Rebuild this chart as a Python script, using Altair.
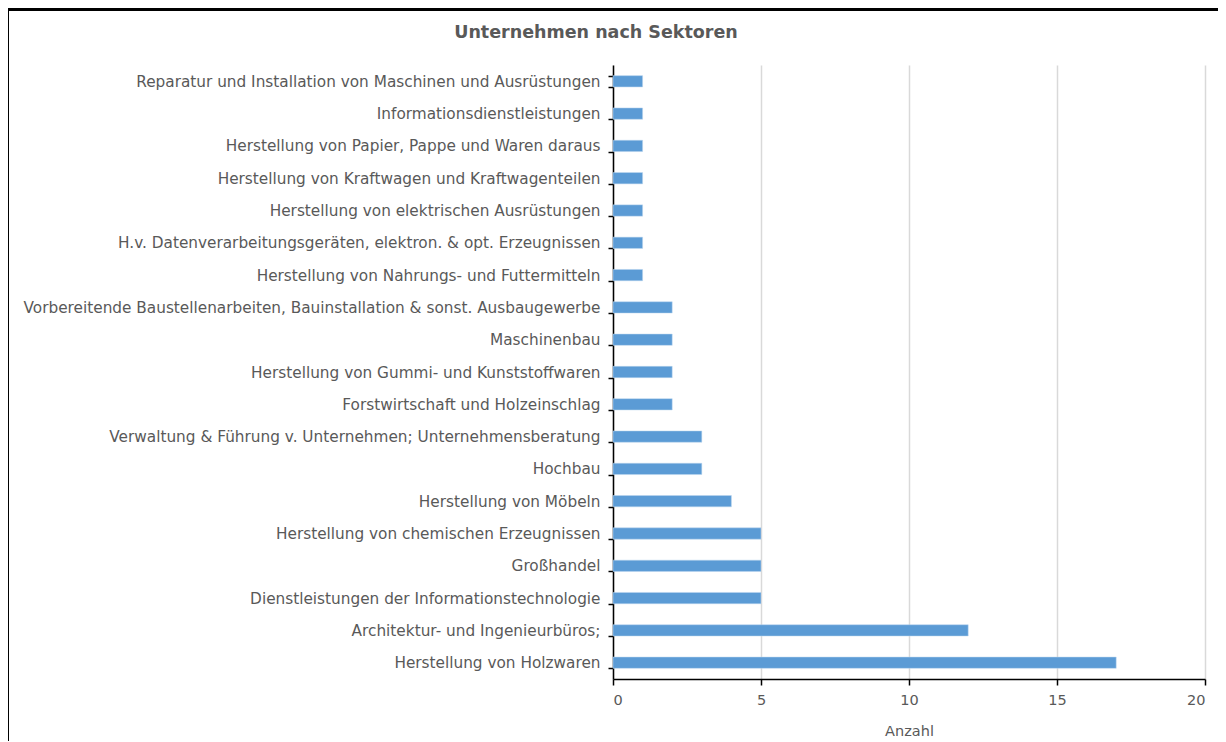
import altair as alt
import pandas as pd

chart_title = "Unternehmen nach Sektoren"
categories = [
    "Reparatur und Installation von Maschinen und Ausrüstungen",
    "Informationsdienstleistungen",
    "Herstellung von Papier, Pappe und Waren daraus",
    "Herstellung von Kraftwagen und Kraftwagenteilen",
    "Herstellung von elektrischen Ausrüstungen",
    "H.v. Datenverarbeitungsgeräten, elektron. & opt. Erzeugnissen",
    "Herstellung von Nahrungs- und Futtermitteln",
    "Vorbereitende Baustellenarbeiten, Bauinstallation & sonst. Ausbaugewerbe",
    "Maschinenbau",
    "Herstellung von Gummi- und Kunststoffwaren",
    "Forstwirtschaft und Holzeinschlag",
    "Verwaltung & Führung v. Unternehmen; Unternehmensberatung",
    "Hochbau",
    "Herstellung von Möbeln",
    "Herstellung von chemischen Erzeugnissen",
    "Großhandel ",
    "Dienstleistungen der Informationstechnologie",
    "Architektur- und Ingenieurbüros;",
    "Herstellung von Holzwaren ",
]
values = [1, 1, 1, 1, 1, 1, 1, 2, 2, 2, 2, 3, 3, 4, 5, 5, 5, 12, 17]

df = pd.DataFrame({"Sektor": categories, "Anzahl": values})

FONT = "DejaVu Sans"
GREY = "#595959"

bars = alt.Chart(df).mark_bar(color="#5B9BD5", stroke="#BDD7EE", strokeWidth=0.5).encode(
    y=alt.Y("Sektor:N", sort=categories,
            scale=alt.Scale(paddingInner=0.65, paddingOuter=0.33),
            axis=alt.Axis(title=None, labelLimit=700, labelFontSize=15.3, labelColor=GREY,
                          labelFont=FONT, labelPadding=8, domainColor="black", domainWidth=1.5,
                          tickColor="black", tickSize=5, tickWidth=1.5, tickBand="extent",
                          grid=False)),
    x=alt.X("Anzahl:Q", scale=alt.Scale(domain=[0, 20]),
            axis=alt.Axis(title="Anzahl", values=[0, 5, 10, 15, 20], labelFontSize=14.5,
                          labelColor=GREY, labelFont=FONT, labelPadding=8,
                          titleFont=FONT, titleFontSize=14.5, titleFontWeight="normal",
                          titleColor=GREY, titlePadding=18,
                          domainColor="black", domainWidth=1.5, tickColor="black",
                          tickSize=6, tickWidth=1.5, grid=True, gridColor="#D9D9D9",
                          gridWidth=1.5)),
)

frame = alt.Chart(df).mark_rect(fill=None, stroke="black", strokeWidth=2.5).encode(
    x=alt.value(-606), x2=alt.value(1000), y=alt.value(-56), y2=alt.value(1000)
)

title = alt.Chart(pd.DataFrame({"t": [chart_title]})).mark_text(
    font=FONT, fontSize=17.5, fontWeight="bold", color=GREY, align="center", baseline="middle"
).encode(text="t:N", x=alt.value(-17), y=alt.value(-32))

chart = alt.layer(bars, frame, title).properties(
    width=592,
    height=614,
    autosize=alt.AutoSizeParams(type="none"),
    padding={"left": 605, "top": 57, "right": 13, "bottom": 62},
).configure_view(stroke=None)

chart.save("out.html", embed_options={"renderer": "svg", "actions": False})
